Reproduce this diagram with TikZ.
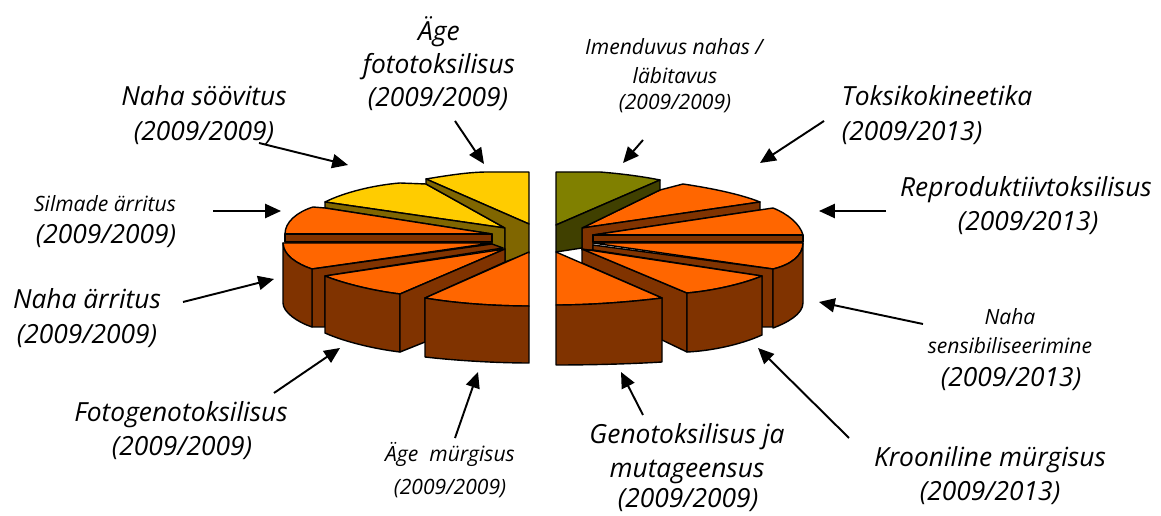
\documentclass[tikz,border=0pt]{standalone}
\usepackage{fontspec}
\setmainfont{Open Sans}
\usetikzlibrary{arrows.meta}
\definecolor{pyellow}{RGB}{255,204,0}
\definecolor{polive}{RGB}{128,102,0}
\definecolor{porange}{RGB}{255,102,0}
\definecolor{pbrown}{RGB}{128,51,0}
\definecolor{pgreen}{RGB}{128,128,0}
\definecolor{pdkgreen}{RGB}{64,64,0}
\newcommand{\lfbig}{\fontsize{15}{18}\selectfont\itshape}
\newcommand{\lfsmall}{\fontsize{12}{14}\selectfont\itshape}
\begin{document}
\begin{tikzpicture}[x=0.02cm,y=-0.02cm,
  face/.style={draw=black,line width=0.8pt,line join=round},
  faceyel/.style={face,fill=pyellow},
  faceoli/.style={face,fill=polive},
  faceora/.style={face,fill=porange},
  facebro/.style={face,fill=pbrown},
  facegrn/.style={face,fill=pgreen},
  facedkg/.style={face,fill=pdkgreen},
  big/.style={font=\lfbig,anchor=base,inner sep=0pt},
  small/.style={font=\lfsmall,anchor=base,inner sep=0pt},
  pointer/.style={line width=1.1pt,-{Triangle[length=9pt,width=8pt]}}]
\useasboundingbox (0,0) rectangle (1161,516);

% ---------------- left half ----------------
% B: Naha soovitus
\path[faceyel] (325,202) .. controls (345,192) and (375,185) .. (400,183) -- (426,184) -- (505,228) -- cycle;
\path[faceoli] (325,202) -- (505,228) -- (505,250) -- (492,250) -- (492,234) -- (325,208) -- cycle;
% A: Age fototoksilisus
\path[faceyel] (426,179) .. controls (450,175) and (470,172) .. (488,172) -- (529,172) -- (529,224) -- cycle;
\path[faceoli] (426,179) -- (529,224) -- (529,253) -- (505,262) -- (505,228) -- (426,184) -- cycle;
% C: Silmade arritus
\path[faceora] (285,234) .. controls (285,222) and (297,212) .. (313,207) -- (325,208) -- (492,234) -- cycle;
\path[facebro] (285,234) -- (492,234) -- (492,242) -- (285,242) -- cycle;
% D: Naha arritus
\path[faceora] (283,243) -- (492,243) -- (312,269) .. controls (297,264) and (283,255) .. (283,243) -- cycle;
\path[facebro] (312,269) -- (492,244) -- (503,248) -- (325,276) -- (325,327) -- (312,327) -- cycle;
\path[facebro] (283,243) .. controls (283,255) and (297,264) .. (312,269) -- (312,327) .. controls (297,322) and (283,312) .. (283,303) -- cycle;
% E: Fotogenotoksilisus
\path[faceora] (325,276) -- (505,249) -- (400,294) .. controls (375,291) and (345,284) .. (325,276) -- cycle;
\path[facebro] (325,276) .. controls (345,284) and (375,291) .. (400,294) -- (400,352) .. controls (375,349) and (345,342) .. (325,333) -- cycle;
\path[facebro] (400,294) -- (505,249) -- (505,262) -- (425,298) -- (425,342) -- (400,352) -- cycle;
% F: Age murgisus
\path[faceora] (425,298) -- (529,252) -- (529,306) .. controls (500,306) and (460,304) .. (425,298) -- cycle;
\path[facebro] (425,298) .. controls (460,304) and (500,306) .. (529,306) -- (529,363) .. controls (500,363) and (460,361) .. (425,357) -- cycle;

% ---------------- right half ----------------
% H: Toksikokineetika
\path[faceora] (582,228) -- (660,190) -- (683,184) .. controls (710,188) and (740,194) .. (760,202) -- cycle;
\path[facebro] (582,228) -- (760,202) -- (760,210) -- (593,235) -- (593,250) -- (582,250) -- cycle;
% G: Imenduvus
\path[facegrn] (556,172) -- (600,172) .. controls (625,174) and (645,177) .. (660,180) -- (556,225) -- cycle;
\path[facedkg] (556,225) -- (660,180) -- (660,190) -- (582,228) -- (582,248) -- (556,252) -- cycle;
% I: Reproduktiivtoksilisus
\path[faceora] (593,235) -- (773,208) .. controls (788,214) and (800,224) .. (803,235) -- cycle;
\path[facebro] (593,235) -- (803,235) -- (803,242) -- (593,242) -- cycle;
% J: Naha sensibiliseerimine
\path[faceora] (593,243) -- (803,243) .. controls (803,256) and (790,265) .. (773,269) -- cycle;
\path[facebro] (593,245) -- (773,269) -- (773,327) -- (762,327) -- (762,276) -- (593,250) -- cycle;
\path[facebro] (803,243) .. controls (803,256) and (790,265) .. (773,269) -- (773,328) .. controls (787,323) and (803,314) .. (803,303) -- cycle;
% K: Krooniline murgisus
\path[facebro] (582,249) -- (687,293) -- (687,352) -- (662,340) -- (662,298) -- (582,263) -- cycle;
\path[faceora] (582,249) -- (762,276) .. controls (740,285) and (710,291) .. (687,293) -- cycle;
\path[facebro] (687,293) .. controls (710,291) and (740,285) .. (762,276) -- (762,335) .. controls (740,345) and (710,351) .. (687,352) -- cycle;
% L: Genotoksilisus
\path[faceora] (556,252) -- (662,298) .. controls (630,302) and (590,305) .. (556,305) -- cycle;
\path[facebro] (556,305) .. controls (590,305) and (630,302) .. (662,298) -- (662,362) .. controls (630,364) and (590,365) .. (556,365) -- cycle;

% ---------------- labels ----------------
\node[big] (t1a) at (439,41) {Äge};
\node[big] (t1b) at (439,74) {fototoksilisus};
\node[big] (t1c) at (438,107) {(2009/2009)};

\node[big] (t2a) at (204,106) {Naha söövitus};
\node[big] (t2b) at (204,141) {(2009/2009)};

\node[small] (t3a) at (105,212) {Silmade ärritus};
\node[big] (t3b) at (106,244) {(2009/2009)};

\node[big] (t4a) at (87,309) {Naha ärritus};
\node[big] (t4b) at (87,344) {(2009/2009)};

\node[big] (t5a) at (181,422) {Fotogenotoksilisus};
\node[big] (t5b) at (182,456) {(2009/2009)};

\node[small] (t6a) at (450,462) {Äge\ \ mürgisus};
\node[small] (t6b) at (450,495) {(2009/2009)};

\node[small] (t7a) at (674,55) {Imenduvus nahas /};
\node[small] (t7b) at (675,84) {läbitavus};
\node[small] (t7c) at (675,110) {(2009/2009)};

\node[big] (t8a) at (937,106) {Toksikokineetika};
\node[big] (t8b) at (912,141) {(2009/2013)};

\node[big] (t9a) at (1026,197) {Reproduktiivtoksilisus};
\node[big] (t9b) at (1028,231) {(2009/2013)};

\node[small] (t10a) at (1010,325) {Naha};
\node[small] (t10b) at (1010,354) {sensibiliseerimine};
\node[big] (t10c) at (1011,387) {(2009/2013)};

\node[big] (t11a) at (687,444) {Genotoksilisus ja};
\node[big] (t11b) at (687,478) {mutageensus};
\node[big] (t11c) at (688,508) {(2009/2009)};

\node[big] (t12a) at (990,467) {Krooniline mürgisus};
\node[big] (t12b) at (990,501) {(2009/2013)};

% ---------------- arrows ----------------
\coordinate (a1s) at (455,121);  \coordinate (a1e) at (484,164);
\coordinate (a2s) at (259,143);  \coordinate (a2e) at (348,165);
\coordinate (a3s) at (213,211);  \coordinate (a3e) at (281,211);
\coordinate (a4s) at (183,302);  \coordinate (a4e) at (274,279);
\coordinate (a5s) at (274,393);  \coordinate (a5e) at (340,348);
\coordinate (a6s) at (455,438);  \coordinate (a6e) at (478,372);
\coordinate (a7s) at (643,140);  \coordinate (a7e) at (623,163);
\coordinate (a8s) at (824,121);  \coordinate (a8e) at (760,163);
\coordinate (a9s) at (886,211);  \coordinate (a9e) at (819,211);
\coordinate (a10s) at (923,324); \coordinate (a10e) at (819,302);
\coordinate (a11s) at (643,415); \coordinate (a11e) at (621,372);
\coordinate (a12s) at (849,438); \coordinate (a12e) at (758,348);
\foreach \i in {1,...,12} \draw[pointer] (a\i s) -- (a\i e);
\end{tikzpicture}
\end{document}
